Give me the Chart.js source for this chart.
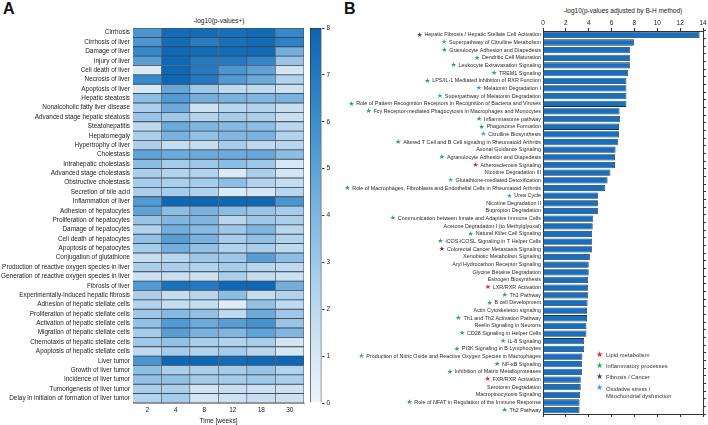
<!DOCTYPE html>
<html>
<head>
<meta charset="utf-8">
<script src="https://cdn.jsdelivr.net/npm/chart.js@4.4.0/dist/chart.umd.min.js"></script>
<style>
  body { margin: 0; width: 708px; height: 425px; background: #fff; position: relative; overflow: hidden;
         font-family: "Liberation Sans", Arial, sans-serif; color: #222; }
  .box { position: absolute; }
  .letter { position: absolute; font-weight: bold; font-size: 16px; color: #111; line-height: 16px; }
  .ttl { position: absolute; font-size: 6.5px; line-height: 8px; white-space: nowrap; transform: translateX(-50%); }
  #legend { position: absolute; left: 596px; top: 352px; font-size: 5.8px; line-height: 7px; color: #333; }
  #legend div { position: relative; padding-left: 10px; margin-bottom: 4.2px; }
  #legend span.s { position: absolute; left: 0; top: -1.5px; font-family: "DejaVu Sans"; font-size: 8px; }
</style>
</head>
<body>
<div class="letter" style="left:3px;top:1px">A</div>
<div class="letter" style="left:344px;top:1px">B</div>
<div class="ttl" style="left:219px;top:17px">-log10(p-values+)</div>
<div class="ttl" style="left:623px;top:7px">-log10(p-values adjusted by B-H method)</div>

<div class="box" style="left:0;top:0"><canvas id="heat" width="308" height="425"></canvas></div>
<div class="box" style="left:300px;top:0"><canvas id="cbar" width="40" height="425"></canvas></div>
<div class="box" style="left:340px;top:0"><canvas id="bars" width="368" height="425"></canvas></div>

<div id="legend"></div>

<script>
// ---- panel A : heatmap ----
const weeks = ["2", "4", "8", "12", "18", "30"];
const functionsA = [
  "Cirrhosis", "Cirrhosis of liver", "Damage of liver", "Injury of liver", "Cell death of liver",
  "Necrosis of liver", "Apoptosis of liver", "Hepatic steatosis", "Nonalcoholic fatty liver disease",
  "Advanced stage hepatic steatosis", "Steatohepatitis", "Hepatomegaly", "Hypertrophy of liver",
  "Cholestasis", "Intrahepatic cholestasis", "Advanced stage cholestasis", "Obstructive cholestasis",
  "Secretion of bile acid", "Inflammation of liver", "Adhesion of hepatocytes", "Proliferation of hepatocytes",
  "Damage of hepatocytes", "Cell death of hepatocytes", "Apoptosis of hepatocytes", "Conjugation of glutathione",
  "Production of reactive oxygen species in liver", "Generation of reactive oxygen species in liver",
  "Fibrosis of liver", "Experimentally-induced hepatic fibrosis", "Adhesion of hepatic stellate cells",
  "Proliferation of hepatic stellate cells", "Activation of hepatic stellate cells", "Migration of hepatic stellate cells",
  "Chemotaxis of hepatic stellate cells", "Apoptosis of hepatic stellate cells", "Liver tumor",
  "Growth of liver tumor", "Incidence of liver tumor", "Tumorigenesis of liver tumor",
  "Delay in initiaion of formation of liver tumor"
];
const week2  = [5.6,5.6,6.3,5.2,0.8,6.2,1.0,3.6,2.6,3.2,2.0,2.6,2.6,5.0,3.6,2.6,2.8,2.6,5.4,5.0,3.2,2.4,3.4,2.8,1.8,2.6,1.4,5.4,2.6,2.4,3.0,3.4,2.8,3.0,2.0,5.6,3.6,3.4,2.6,2.4];
const week4  = [7.6,7.6,7.8,7.8,7.8,7.8,4.8,5.4,4.6,3.0,4.6,4.2,1.8,4.6,2.8,2.4,2.6,2.8,7.8,3.6,4.0,4.4,5.2,4.4,2.2,2.6,1.6,7.4,1.8,1.8,3.8,5.4,5.2,3.4,2.8,7.8,2.6,3.4,2.6,2.8];
const week8  = [7.6,6.8,7.6,7.0,7.0,7.0,3.0,4.4,1.4,2.4,4.0,3.4,1.8,4.6,3.0,2.4,2.8,2.4,7.8,4.2,4.0,3.8,4.2,3.4,3.0,2.4,1.4,7.0,2.2,1.8,3.4,4.6,4.2,2.6,2.4,7.8,2.6,2.8,1.2,1.2];
const week12 = [7.5,7.4,7.6,7.0,5.6,5.4,2.0,4.2,2.2,2.8,3.8,4.0,2.8,4.6,3.6,0.8,3.6,0.8,7.8,3.6,2.2,3.0,2.8,2.4,3.0,2.8,2.6,7.8,3.6,0.6,2.0,5.2,4.0,2.4,2.8,7.6,2.8,2.8,1.6,1.4];
const week18 = [7.7,7.6,7.7,6.4,5.0,4.6,2.0,4.0,2.4,2.6,3.6,4.2,2.0,4.8,3.0,2.6,2.4,1.0,7.8,3.2,3.0,4.0,3.4,2.6,5.2,2.2,1.8,7.8,1.8,3.4,4.6,5.8,5.0,2.6,2.2,7.8,3.2,3.0,1.4,1.6];
const week30 = [6.3,6.6,4.4,3.2,1.2,2.4,1.4,4.2,1.6,1.6,2.2,2.4,2.2,3.6,1.0,1.2,1.8,2.2,5.6,2.8,2.6,2.2,2.4,2.0,3.6,2.0,1.4,4.4,2.4,2.0,3.0,3.2,4.0,1.2,1.0,7.8,2.4,2.6,1.4,1.4];
const colorTicks = [0, 1, 2, 3, 4, 5, 6, 7, 8];

// ---- panel B : pathways ----
const pathways = [
  "Hepatic Fibrosis / Hepatic Stellate Cell Activation", "Superpathway of Citrulline Metabolism",
  "Granulocyte Adhesion and Diapedesis", "Dendritic Cell Maturation", "Leukocyte Extravasation Signaling",
  "TREM1 Signaling", "LPS/IL-1 Mediated Inhibition of RXR Function", "Melatonin Degradation I",
  "Superpathway of Melatonin Degradation", "Role of Pattern Recognition Receptors in Recognition of Bacteria and Viruses",
  "Fcγ Receptor-mediated Phagocytosis in Macrophages and Monocytes", "Inflammasome pathway", "Phagosome Formation",
  "Citrulline Biosynthesis", "Altered T Cell and B Cell signaling in Rheumatoid Arthritis", "Axonal Guidance Signaling",
  "Agranulocyte Adhesion and Diapedesis", "Atherosclerosis Signaling", "Nicotine Degradation III",
  "Glutathione-mediated Detoxification", "Role of Macrophages, Fibroblasts and Endothelial Cells in Rheumatoid Arthritis",
  "Urea Cycle", "Nicotine Degradation II", "Bupropion Degradation", "Communication between Innate and Adaptive Immune Cells",
  "Acetone Degradation I (to Methylglyoxal)", "Natural Killer Cell Signaling", "iCOS-iCOSL Signaling in T Helper Cells",
  "Colorectal Cancer Metastasis Signaling", "Xenobiotic Metabolism Signaling", "Aryl Hydrocarbon Receptor Signaling",
  "Glycine Betaine Degradation", "Estrogen Biosynthesis", "LXR/RXR Activation", "Th1 Pathway", "B cell Development",
  "Actin Cytoskeleton signaling", "Th1 and Th2 Activation Pathway", "Reelin Signaling in Neurons",
  "CD28 Signaling in Helper Cells", "IL-8 Signaling", "PI3K Signaling in B Lymphocytes",
  "Production of Nitric Oxide and Reactive Oxygen Species in Macrophages", "NF-κB Signaling",
  "Inhibition of Matrix Metalloproteases", "FXR/RXR Activation", "Serotonin Degradation", "Macropinocytosis Signaling",
  "Role of NFAT in Regulation of the Immune Response", "Th2 Pathway"
];
const pathwayScores = [13.7,7.95,7.6,7.6,7.6,7.45,7.3,7.3,7.3,7.3,6.7,6.75,6.65,6.65,6.55,6.35,6.3,6.3,5.9,5.65,
  5.45,4.8,4.8,4.8,4.4,4.35,4.3,4.3,4.3,4.1,4.0,4.0,3.95,3.95,3.95,3.9,3.85,3.85,3.8,3.8,
  3.6,3.6,3.45,3.4,3.4,3.3,3.3,3.25,3.2,3.2];
// L lipid, I inflammatory, F fibrosis/cancer, O oxidative stress, "" none
const pathwayGroups = ["F","O","I","I","I","I","I","O","O","I","I","I","I","O","I","","I","L","","O",
  "I","O","","","I","","I","I","F","","","","","L","I","I","","I","","I",
  "I","I","O","I","I","L","","","I","I"];
const groupNames = { L: "Lipid metabolism", I: "Inflammatory processes", F: "Fibrosis / Cancer",
                     O: "Oxidative stress /<br>Mitochondrial dysfunction" };
const groupColors = { L: "#e3242b", I: "#2aa55a", F: "#5b3292", O: "#3b9fdc" };

const labelFontB = 5.4;

Chart.defaults.font.family = '"Liberation Sans", Arial, sans-serif';
Chart.defaults.color = "#222";
Chart.defaults.animation = false;
Chart.defaults.plugins.legend.display = false;
Chart.defaults.plugins.tooltip.enabled = false;

// colour map, roughly the blue ramp of the colour bar
const stops = [[0,[238,245,251]],[2,[190,218,240]],[4,[128,182,224]],[6,[62,142,205]],[8,[10,100,178]]];
function blue(v) {
  v = Math.max(0, Math.min(8, v));
  for (let i = 0; i < stops.length - 1; i++) {
    const [a, ca] = stops[i], [b, cb] = stops[i + 1];
    if (v <= b) {
      const t = (v - a) / (b - a);
      return "rgb(" + ca.map((c, k) => Math.round(c + (cb[k] - c) * t)).join(",") + ")";
    }
  }
}

const weekValues = [week2, week4, week8, week12, week18, week30];
new Chart(document.getElementById("heat"), {
  type: "bar",
  data: {
    labels: functionsA,
    datasets: weekValues.map((vals, j) => ({
      label: weeks[j],
      data: vals.map(() => 1),
      backgroundColor: vals.map(blue),
      borderColor: "rgba(35,45,60,0.85)",
      borderWidth: 0.8,
      barPercentage: 1,
      categoryPercentage: 1
    }))
  },
  options: {
    indexAxis: "y",
    responsive: false,
    devicePixelRatio: 1,
    layout: { padding: { top: 28, right: 4, left: 0, bottom: 0 } },
    scales: {
      x: {
        type: "linear", stacked: true, min: 0, max: 6,
        afterBuildTicks: (axis) => { axis.ticks = weeks.map((w, i) => ({ value: i + 0.5 })); },
        afterFit: (axis) => { axis.height = 22; },
        ticks: { callback: (v, i) => weeks[i], font: { size: 6.5 }, padding: 3 },
        grid: { display: false, drawTicks: false },
        border: { color: "#999" },
        title: { display: true, text: "Time [weeks]", font: { size: 6.5 }, padding: { top: 0, bottom: 0 } }
      },
      y: {
        stacked: true,
        afterFit: (axis) => { axis.width = 133; },
        ticks: { autoSkip: false, font: { size: 6.4 }, padding: 3 },
        grid: { display: false, drawTicks: false },
        border: { color: "#999" }
      }
    }
  }
});

// colour bar
new Chart(document.getElementById("cbar"), {
  type: "bar",
  data: {
    labels: [""],
    datasets: [{
      data: [8],
      backgroundColor: (ctx) => {
        const { chart } = ctx;
        if (!chart.chartArea) return "#fff";
        const ys = chart.scales.y;
        const g = chart.ctx.createLinearGradient(0, ys.getPixelForValue(0), 0, ys.getPixelForValue(8));
        stops.forEach(([v, c]) => g.addColorStop(v / 8, "rgb(" + c.join(",") + ")"));
        return g;
      },
      borderColor: "#333",
      borderWidth: 1,
      barPercentage: 1,
      categoryPercentage: 1
    }]
  },
  options: {
    responsive: false,
    devicePixelRatio: 1,
    layout: { padding: { top: 28, bottom: 22, left: 10, right: 0 } },
    scales: {
      x: { display: false },
      y: {
        position: "right", min: 0, max: 8,
        afterBuildTicks: (axis) => { axis.ticks = colorTicks.map(v => ({ value: v })); },
        afterFit: (axis) => { axis.width = 18.5; },
        ticks: { font: { size: 6.5 }, padding: 2 },
        grid: { drawOnChartArea: false, tickLength: 3, color: "#333" },
        border: { display: false }
      }
    }
  }
});

// stars in front of the pathway labels
const starPlugin = {
  id: "groupStars",
  afterDraw(chart) {
    const ys = chart.scales.y;
    const c = chart.ctx;
    c.save();
    c.textAlign = "right";
    c.textBaseline = "middle";
    pathways.forEach((name, i) => {
      const g = pathwayGroups[i];
      if (!g) return;
      c.font = labelFontB + 'px "Liberation Sans", Arial, sans-serif';
      const w = c.measureText(name).width;
      c.font = '7px "DejaVu Sans"';
      c.fillStyle = groupColors[g];
      c.fillText("★", ys.right - 2 - w - 1.8, ys.getPixelForValue(i));
    });
    c.restore();
  }
};

new Chart(document.getElementById("bars"), {
  type: "bar",
  data: {
    labels: pathways,
    datasets: [{
      data: pathwayScores,
      backgroundColor: "#1a6fbd",
      borderColor: "#14304f",
      borderWidth: 0.8,
      barPercentage: 0.82,
      categoryPercentage: 1
    }]
  },
  options: {
    indexAxis: "y",
    responsive: false,
    devicePixelRatio: 1,
    layout: { padding: 0 },
    scales: {
      x: {
        position: "top", min: 0, max: 14,
        ticks: { stepSize: 2, font: { size: 6.5 }, padding: 1 },
        afterFit: (axis) => { axis.height = 31; },
        grid: { drawOnChartArea: false, tickLength: 3, color: "#333" },
        border: { color: "#333" }
      },
      x2: {
        position: "bottom", min: 0, max: 14,
        ticks: { stepSize: 2, display: false },
        afterFit: (axis) => { axis.height = 11; },
        grid: { drawOnChartArea: false, tickLength: 3, color: "#333" },
        border: { color: "#333" }
      },
      y: {
        afterFit: (axis) => { axis.width = 203; },
        ticks: { autoSkip: false, font: { size: labelFontB }, padding: 2, color: "#2a2a2a" },
        grid: { display: false, drawTicks: false },
        border: { color: "#333" }
      },
      y2: {
        type: "category", position: "right", labels: pathways, offset: true,
        afterFit: (axis) => { axis.width = 5; },
        ticks: { display: false },
        grid: { drawOnChartArea: false, tickLength: 3, color: "#333" },
        border: { color: "#333" }
      }
    }
  },
  plugins: [starPlugin]
});

// legend of the star colours
const legend = document.getElementById("legend");
["L", "I", "F", "O"].forEach(k => {
  const d = document.createElement("div");
  d.innerHTML = `<span class="s" style="color:${groupColors[k]}">★</span>${groupNames[k]}`;
  legend.appendChild(d);
});
</script>
</body>
</html>
